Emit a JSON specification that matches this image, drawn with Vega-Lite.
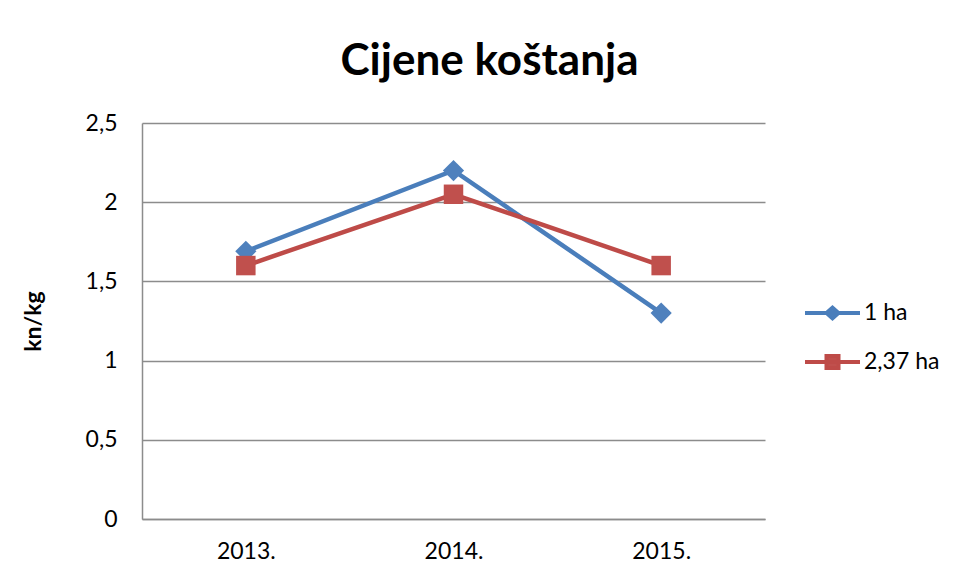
{
  "$schema": "https://vega.github.io/schema/vega-lite/v6.json",
  "width": 623,
  "height": 396,
  "autosize": {"type": "none"},
  "padding": {"left": 142, "top": 123, "right": 193, "bottom": 61},
  "background": "white",
  "title": {
    "text": "Cijene koštanja",
    "font": "Lato",
    "fontSize": 44,
    "fontWeight": "bold",
    "color": "black",
    "anchor": "middle",
    "frame": "group",
    "dx": 36,
    "baseline": "alphabetic",
    "offset": -7
  },
  "config": {
    "locale": {"number": {"decimal": ",", "thousands": ".", "grouping": [3], "currency": ["", " kn"]}},
    "view": {"stroke": null},
    "font": "Lato"
  },
  "data": {
    "values": [
      {"year": "2013.", "series": "1 ha", "value": 1.69},
      {"year": "2014.", "series": "1 ha", "value": 2.2},
      {"year": "2015.", "series": "1 ha", "value": 1.3},
      {"year": "2013.", "series": "2,37 ha", "value": 1.6},
      {"year": "2014.", "series": "2,37 ha", "value": 2.05},
      {"year": "2015.", "series": "2,37 ha", "value": 1.6}
    ]
  },
  "encoding": {
    "x": {
      "field": "year",
      "type": "ordinal",
      "scale": {"type": "point", "padding": 0.5},
      "axis": {
        "title": null,
        "labelAngle": 0,
        "labelFont": "Lato",
        "labelFontSize": 23,
        "labelColor": "black",
        "labelPadding": 21,
        "ticks": false,
        "domainColor": "#8c8c8c",
        "domainWidth": 1.5,
        "grid": false
      }
    },
    "y": {
      "field": "value",
      "type": "quantitative",
      "scale": {"domain": [0, 2.5], "nice": false, "zero": true},
      "axis": {
        "title": "kn/kg",
        "titleFont": "Lato",
        "titleFontSize": 23,
        "titleFontWeight": "bold",
        "titleColor": "black",
        "titlePadding": 40,
        "values": [0, 0.5, 1, 1.5, 2, 2.5],
        "format": ".1~f",
        "labelFont": "Lato",
        "labelFontSize": 23,
        "labelColor": "black",
        "labelPadding": 25,
        "ticks": false,
        "domainColor": "#8c8c8c",
        "domainWidth": 1.5,
        "gridColor": "#8c8c8c",
        "gridWidth": 1.5
      }
    }
  },
  "layer": [
    {
      "mark": {"type": "line", "strokeWidth": 4.5},
      "encoding": {
        "color": {
          "field": "series",
          "type": "nominal",
          "scale": {"domain": ["1 ha", "2,37 ha"], "range": ["#4A7EBB", "#BE4B48"]},
          "legend": {
            "title": null,
            "orient": "none",
            "legendX": 661,
            "legendY": 168,
            "padding": 0,
            "symbolSize": 1600,
            "symbolStrokeWidth": 4,
            "rowPadding": 13,
            "labelOffset": 17,
            "labelFont": "Lato",
            "labelFontSize": 23,
            "labelColor": "black",
            "encode": {
              "symbols": {
                "update": {
                  "shape": {"signal": "datum.value === '1 ha' ? 'M-1,0H1.75M0.075,0L0.375,-0.27L0.675,0L0.375,0.27Z' : 'M-1,0H1.75M0.075,-0.3H0.675V0.3H0.075Z'"},
                  "fill": {"signal": "datum.value === '1 ha' ? '#4F81BD' : '#C0504D'"},
                  "stroke": {"signal": "datum.value === '1 ha' ? '#4A7EBB' : '#BE4B48'"},
                  "strokeWidth": {"value": 4},
                  "opacity": {"value": 1}
                }
              }
            }
          }
        }
      }
    },
    {
      "transform": [{"filter": "datum.series === '1 ha'"}],
      "mark": {"type": "point", "filled": true, "opacity": 1, "size": 450, "shape": "diamond", "fill": "#4F81BD", "stroke": null}
    },
    {
      "transform": [{"filter": "datum.series === '2,37 ha'"}],
      "mark": {"type": "point", "filled": true, "opacity": 1, "size": 380, "shape": "square", "fill": "#C0504D", "stroke": null}
    }
  ]
}
